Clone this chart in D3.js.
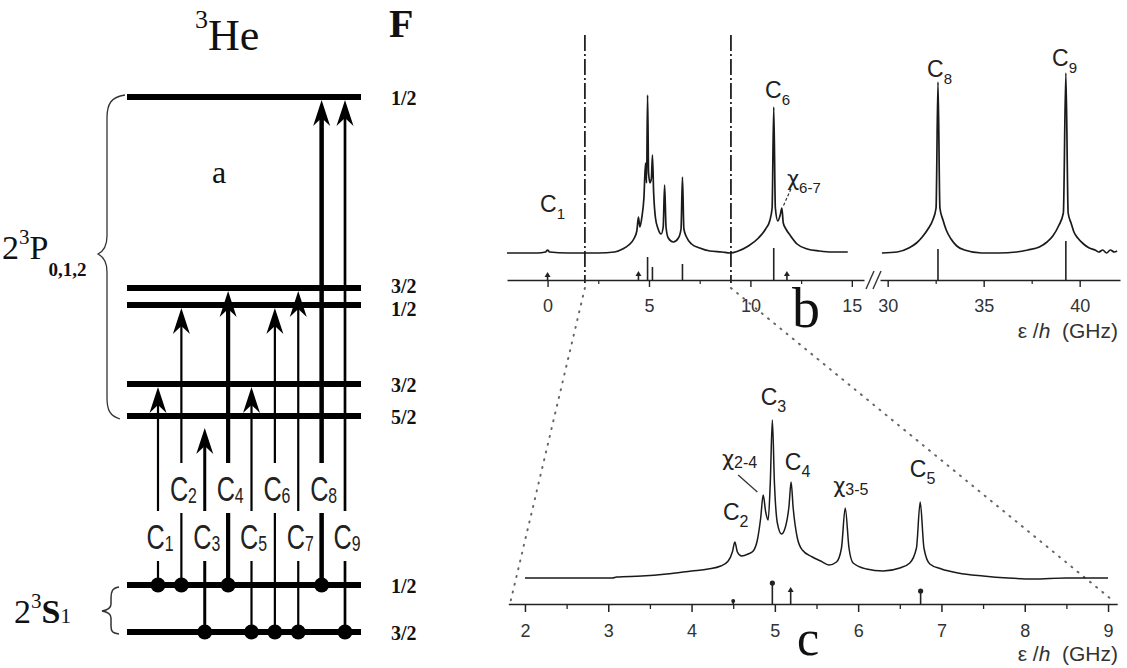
<!DOCTYPE html>
<html>
<head>
<meta charset="utf-8">
<script src="https://cdn.jsdelivr.net/npm/d3@7"></script>
<style>
  body { margin: 0; background: #fff; }
  text { font-family: "Liberation Sans", Arial, sans-serif; }
  .serif { font-family: "Liberation Serif", "Times New Roman", serif; }
</style>
</head>
<body>
<div id="chart"></div>
<script>
// ---- level diagram (a) : hyperfine levels of 3He, energies in arbitrary units
var levelF = ["1/2", "3/2", "1/2", "3/2", "5/2", "1/2", "3/2"];
var levelE = [535, 344, 327, 248, 216, 47, 0];
var transNames = ["C1", "C2", "C3", "C4", "C5", "C6", "C7", "C8", "C9"];
var transFrom = [5, 5, 6, 5, 6, 6, 6, 5, 6];
var transTo   = [3, 2, 4, 1, 3, 2, 1, 0, 0];

// ---- spectrum (b), frequency in GHz, signal in arbitrary units
var bLeftF = [-2.0, -0.5, -0.1, 0, 0.1, 1.0, 2.5, 3.3, 3.7, 4.0, 4.25, 4.4, 4.48, 4.55, 4.65, 4.75, 4.83, 4.88,
  4.93, 4.98, 5.05, 5.12, 5.17, 5.23, 5.32, 5.45, 5.6, 5.7, 5.77, 5.84, 5.95, 6.2, 6.45, 6.58, 6.65, 6.72, 6.85,
  7.1, 7.5, 8.0, 8.6, 9.0, 9.4, 9.9, 10.4, 10.75, 10.95, 11.07, 11.15, 11.23, 11.35, 11.47, 11.55, 11.62, 11.75,
  11.95, 12.3, 12.8, 13.4, 14.0, 14.8];
var bLeftS = [0, 0, 1, 3, 1, 0, 0, 1, 4, 8, 14, 22, 36, 26, 36, 55, 90, 70,
  158, 80, 70, 75, 98, 60, 35, 24, 19, 26, 68, 26, 15, 11, 15, 24, 76, 24, 16,
  9, 5, 2, 1, 0, 2, 7, 15, 24, 32, 45, 146, 45, 32, 38, 45, 30, 24,
  18, 9, 4, 2, 1, 1];
var bRightF = [29.7, 30.5, 31.1, 31.5, 31.8, 32.1, 32.35, 32.52, 32.62, 32.72, 32.88, 33.05, 33.3, 33.6, 34.0,
  34.9, 35.8, 36.7, 37.3, 37.9, 38.3, 38.6, 38.9, 39.15, 39.28, 39.4, 39.55, 39.7, 39.9, 40.2, 40.5, 40.8, 41.0,
  41.2, 41.4, 41.6, 41.8, 41.95];
var bRightS = [0, 1, 5, 10, 16, 24, 33, 45, 171, 45, 33, 23, 14, 7, 3,
  0, 0, 1, 3, 6, 11, 17, 27, 40, 180, 40, 30, 21, 15, 9, 5, 3, 1,
  3, 0, 3, 1, 2];
var bStickF = [0, 4.48, 4.93, 5.17, 6.65, 11.15, 11.8, 32.62, 39.28];
var bStickH = [6, 7, 23, 13, 16, 32, 7, 31, 39];
var bTicksL = [0, 5, 10, 15];
var bTicksR = [30, 35, 40];
var bMinorL = [2.5, 7.5, 12.5];
var bMinorR = [32.5, 37.5];
var zoomWindow = [1.84, 9.04];

// ---- spectrum (c), zoom of 2..9 GHz
var cF = [2.0, 2.5, 3.05, 3.1, 3.4, 3.7, 4.0, 4.2, 4.35, 4.44, 4.49, 4.52, 4.55, 4.6, 4.68, 4.74, 4.79, 4.83,
  4.86, 4.89, 4.92, 4.945, 4.97, 4.995, 5.03, 5.08, 5.13, 5.17, 5.195, 5.22, 5.27, 5.33, 5.45, 5.55, 5.65, 5.74,
  5.8, 5.845, 5.89, 5.94, 6.1, 6.3, 6.5, 6.62, 6.7, 6.745, 6.79, 6.86, 7.0, 7.2, 7.5, 7.8, 8.1, 8.5, 9.0];
var cS = [0, 0, 0, 1, 2, 4, 7, 9, 12, 17, 26, 36, 26, 22, 24, 27, 38, 60,
  83, 66, 58, 95, 158, 95, 55, 44, 52, 72, 96, 70, 40, 28, 21, 17, 13, 16,
  30, 70, 30, 15, 9, 7, 10, 15, 30, 76, 30, 14, 9, 5, 2, 0, -1, 0, 0];
var cStickF = [4.5, 4.97, 5.19, 6.75];
var cStickH = [3, 21, 15, 13];
var cTicks = [2, 3, 4, 5, 6, 7, 8, 9];
var cMinor = [2.5, 3.5, 4.5, 5.5, 6.5, 7.5, 8.5];

// peak labels: [main, subscript, freq of left edge, signal of baseline]
var bLabelsL = [["C", "1", -0.37, 41], ["C", "6", 10.72, 155], ["\u03c7", "6-7", 11.8, 67]];
var bLabelsR = [["C", "8", 32.05, 176], ["C", "9", 38.56, 187]];
var cLabels = [["C", "3", 4.83, 173], ["\u03c7", "2-4", 4.365, 112], ["C", "4", 5.12, 108],
  ["C", "2", 4.377, 58], ["\u03c7", "3-5", 5.7, 85], ["C", "5", 6.62, 101]];

var svg = d3.select("#chart").append("svg")
  .attr("width", 1127).attr("height", 668)
  .style("background", "#fff");

// ================= level diagram =================
var yE = d3.scaleLinear().domain([0, 535]).range([632, 97]);
var xT = d3.scalePoint().domain(transNames).range([158, 345]);

svg.append("text").attr("class", "serif").attr("x", 195).attr("y", 50)
  .style("font-size", "44px").attr("fill", "#111")
  .call(function (t) {
    t.append("tspan").text("3").style("font-size", "26px").attr("dy", -22);
    t.append("tspan").text("He").attr("dy", 22);
  });
svg.append("text").attr("class", "serif").attr("x", 389).attr("y", 37)
  .style("font-size", "40px").style("font-weight", "bold").attr("fill", "#111").text("F");
svg.append("text").attr("class", "serif").attr("x", 212).attr("y", 183)
  .style("font-size", "32px").attr("fill", "#111").text("a");

var levels = levelE.map(function (e, i) { return { E: e, F: levelF[i] }; });
svg.selectAll(".lvl").data(levels).enter().append("line")
  .attr("class", "lvl")
  .attr("x1", 127).attr("x2", 361)
  .attr("y1", function (d) { return yE(d.E); })
  .attr("y2", function (d) { return yE(d.E); })
  .attr("stroke", "#000").attr("stroke-width", 6);

svg.selectAll(".lvlF").data(levels).enter().append("text")
  .attr("class", "serif")
  .attr("x", 391).attr("y", function (d, i) { return yE(d.E) + (i === 1 ? 5 : i === 2 ? 11 : 8); })
  .style("font-size", "20px").style("font-weight", "bold").attr("fill", "#111")
  .text(function (d) { return d.F; });

var trans = transNames.map(function (n, i) {
  return { name: n, from: levelE[transFrom[i]], to: levelE[transTo[i]], idx: i };
});
var thick = { C3: 3, C4: 4.2, C8: 4.5, C9: 2.7 };
trans.forEach(function (d) {
  var x = xT(d.name);
  var y0 = yE(d.from);
  var tip = yE(d.to) + (d.name === "C3" ? 12 : 3);
  var w = thick[d.name] || 2.2;
  svg.append("line").attr("x1", x).attr("x2", x).attr("y1", y0).attr("y2", tip + 16)
    .attr("stroke", "#000").attr("stroke-width", w);
  svg.append("path")
    .attr("d", "M" + x + "," + tip + " L" + (x + 8.5) + "," + (tip + 26) + " L" + x + "," + (tip + 18) +
      " L" + (x - 8.5) + "," + (tip + 26) + " Z")
    .attr("fill", "#000");
  svg.append("circle").attr("cx", x).attr("cy", y0).attr("r", 7.5).attr("fill", "#000");
});

// labels C1..C9 in two rows, on white boxes that cut the lines
trans.forEach(function (d) {
  var x = xT(d.name);
  var row2 = d.idx % 2 === 0;
  var cy = row2 ? 536 : 488;
  svg.append("rect").attr("x", x - 14).attr("y", cy - 25).attr("width", 28).attr("height", 50)
    .attr("fill", "#fff");
  var g = svg.append("g").attr("transform", "translate(" + (x + 2) + "," + (cy + 13) + ") scale(0.72,1)");
  var t = g.append("text").attr("text-anchor", "middle").style("font-size", "35px").attr("fill", "#222");
  t.append("tspan").text("C");
  t.append("tspan").text(d.name.slice(1)).style("font-size", "22px").attr("dy", 2);
});

// braces
svg.append("path")
  .attr("d", "M125,95 C111,97 107,104 107,118 L107,236 C107,246 104,251 98,254 C104,257 107,262 107,272 " +
    "L107,398 C107,410 110,416 120,419")
  .attr("fill", "none").attr("stroke", "#333").attr("stroke-width", 1.3);
svg.append("path")
  .attr("d", "M119,587 C112,588 111,592 111,598 L111,604 C111,608 108,610 102,611 C108,612 111,614 111,618 " +
    "L111,626 C111,631 112,633 119,634")
  .attr("fill", "none").attr("stroke", "#333").attr("stroke-width", 1.5);

svg.append("text").attr("class", "serif").attr("x", 2).attr("y", 259)
  .style("font-size", "34px").attr("fill", "#111")
  .call(function (t) {
    t.append("tspan").text("2");
    t.append("tspan").text("3").style("font-size", "21px").attr("dy", -15);
    t.append("tspan").text("P").attr("dy", 15);
    t.append("tspan").text("0,1,2").style("font-size", "19px").style("font-weight", "bold").attr("dy", 17);
  });
svg.append("text").attr("class", "serif").attr("x", 14).attr("y", 623)
  .style("font-size", "34px").attr("fill", "#111")
  .call(function (t) {
    t.append("tspan").text("2");
    t.append("tspan").text("3").style("font-size", "21px").attr("dy", -15);
    t.append("tspan").text("S").style("font-weight", "bold").attr("dy", 15);
    t.append("tspan").text("1").style("font-size", "21px").attr("dy", 0);
  });

// ================= spectrum b =================
var xBL = d3.scaleLinear().domain([-2, 15.6]).range([507, 864]);
var xBR = d3.scaleLinear().domain([29.6, 42.1]).range([880, 1120]);
var yB = d3.scaleLinear().domain([0, 180]).range([253, 73]);
var axisBY = 280;
var yBStick = d3.scaleLinear().domain([0, 40]).range([axisBY, axisBY - 40]);

// zoom window markers
zoomWindow.forEach(function (f) {
  svg.append("line").attr("x1", xBL(f)).attr("x2", xBL(f)).attr("y1", 35).attr("y2", axisBY + 3)
    .attr("stroke", "#222").attr("stroke-width", 1.8).attr("stroke-dasharray", "16,3,2,3");
});

function drawAxis(scale, ticks, minor, y) {
  var g = svg.append("g").attr("transform", "translate(0," + y + ")")
    .call(d3.axisBottom(scale).tickValues(ticks).tickSize(7).tickSizeOuter(0).tickPadding(12));
  g.select(".domain").attr("stroke", "#222").attr("stroke-width", 1.6);
  g.selectAll(".tick line").attr("stroke", "#222").attr("stroke-width", 1.4);
  g.selectAll(".tick text").style("font-size", "18px").attr("fill", "#333")
    .style("font-family", "'Liberation Sans', Arial, sans-serif");
  var m = svg.append("g").attr("transform", "translate(0," + y + ")")
    .call(d3.axisBottom(scale).tickValues(minor).tickSize(4).tickSizeOuter(0).tickFormat(""));
  m.select(".domain").remove();
  m.selectAll(".tick line").attr("stroke", "#222").attr("stroke-width", 1.2);
}
drawAxis(xBL, bTicksL, bMinorL, axisBY);
drawAxis(xBR, bTicksR, bMinorR, axisBY);

// axis break
[0, 7].forEach(function (dx) {
  svg.append("line").attr("x1", 866 + dx).attr("y1", axisBY + 9).attr("x2", 874 + dx).attr("y2", axisBY - 9)
    .attr("stroke", "#333").attr("stroke-width", 1.4);
});

var lineBL = d3.line().x(function (d) { return xBL(d[0]); }).y(function (d) { return yB(d[1]); })
  .curve(d3.curveMonotoneX);
var lineBR = d3.line().x(function (d) { return xBR(d[0]); }).y(function (d) { return yB(d[1]); })
  .curve(d3.curveMonotoneX);
svg.append("path").datum(d3.zip(bLeftF, bLeftS)).attr("d", lineBL)
  .attr("fill", "none").attr("stroke", "#1a1a1a").attr("stroke-width", 1.7);
svg.append("path").datum(d3.zip(bRightF, bRightS)).attr("d", lineBR)
  .attr("fill", "none").attr("stroke", "#1a1a1a").attr("stroke-width", 1.7);

// stick markers
d3.zip(bStickF, bStickH).forEach(function (d) {
  var x = d[0] > 20 ? xBR(d[0]) : xBL(d[0]);
  svg.append("line").attr("x1", x).attr("x2", x).attr("y1", axisBY).attr("y2", yBStick(d[1]))
    .attr("stroke", "#222").attr("stroke-width", 1.6);
  if (d[1] < 10) {
    svg.append("path").attr("d", "M" + x + "," + (yBStick(d[1]) - 2) + " l3,5 l-6,0 Z").attr("fill", "#222");
  }
});

function peakLabel(x, y, main, sub, size, subSize, drop) {
  var t = svg.append("text").attr("x", x).attr("y", y).style("font-size", size + "px").attr("fill", "#222");
  var m = t.append("tspan").text(main);
  if (main !== "C") m.style("font-family", "'DejaVu Sans', sans-serif").style("font-size", (size - 2) + "px");
  t.append("tspan").text(sub).style("font-size", subSize + "px").attr("dy", drop);
}
bLabelsL.forEach(function (d) { peakLabel(xBL(d[2]), yB(d[3]), d[0], d[1], 23, 15, 7); });
bLabelsR.forEach(function (d) { peakLabel(xBR(d[2]), yB(d[3]), d[0], d[1], 23, 15, 7); });
svg.append("line").attr("x1", xBL(12.0)).attr("y1", yB(64)).attr("x2", xBL(11.62)).attr("y2", yB(47))
  .attr("stroke", "#333").attr("stroke-width", 1.2).attr("stroke-dasharray", "3,2");

svg.append("text").attr("class", "serif").attr("x", 792).attr("y", 327)
  .style("font-size", "56px").attr("fill", "#111").text("b");

function axisTitle(y) {
  var t = svg.append("text").attr("x", 1118).attr("y", y).attr("text-anchor", "end")
    .style("font-size", "21px").attr("fill", "#333").style("white-space", "pre");
  t.append("tspan").text("\u03b5 /");
  t.append("tspan").text("h").style("font-style", "italic");
  t.append("tspan").text("  (GHz)");
}
axisTitle(338);

// ================= spectrum c =================
var xC = d3.scaleLinear().domain([1.8, 9.11]).range([508.3, 1117.2]);
var yC = d3.scaleLinear().domain([0, 160]).range([578, 418]);
var axisCY = 604;
var yCStick = d3.scaleLinear().domain([0, 25]).range([axisCY, axisCY - 25]);

// dotted guides from the zoom window to the lower axis
svg.append("line").attr("x1", xBL(zoomWindow[0])).attr("y1", axisBY + 8).attr("x2", xC(1.82)).attr("y2", axisCY)
  .attr("stroke", "#666").attr("stroke-width", 2).attr("stroke-dasharray", "1,7").attr("stroke-linecap", "round");
svg.append("line").attr("x1", xBL(zoomWindow[1])).attr("y1", axisBY + 8).attr("x2", xC(9.05)).attr("y2", axisCY - 4)
  .attr("stroke", "#666").attr("stroke-width", 2).attr("stroke-dasharray", "1,7").attr("stroke-linecap", "round");

(function () {
  var g = svg.append("g").attr("transform", "translate(0," + axisCY + ")")
    .call(d3.axisBottom(xC).tickValues(cTicks).tickSize(8).tickSizeOuter(0).tickPadding(12));
  g.select(".domain").attr("stroke", "#222").attr("stroke-width", 1.6);
  g.selectAll(".tick line").attr("stroke", "#222").attr("stroke-width", 1.5);
  g.selectAll(".tick text").style("font-size", "18px").attr("fill", "#333")
    .style("font-family", "'Liberation Sans', Arial, sans-serif");
  var m = svg.append("g").attr("transform", "translate(0," + axisCY + ")")
    .call(d3.axisBottom(xC).tickValues(cMinor).tickSize(5).tickSizeOuter(0).tickFormat(""));
  m.select(".domain").remove();
  m.selectAll(".tick line").attr("stroke", "#222").attr("stroke-width", 1.3);
})();

var lineC = d3.line().x(function (d) { return xC(d[0]); }).y(function (d) { return yC(d[1]); })
  .curve(d3.curveMonotoneX);
svg.append("path").datum(d3.zip(cF, cS)).attr("d", lineC)
  .attr("fill", "none").attr("stroke", "#1a1a1a").attr("stroke-width", 1.5);

d3.zip(cStickF, cStickH).forEach(function (d, i) {
  var x = xC(d[0]);
  var top = yCStick(d[1]);
  svg.append("line").attr("x1", x).attr("x2", x).attr("y1", axisCY).attr("y2", top)
    .attr("stroke", "#222").attr("stroke-width", 1.6);
  if (i === 2) {
    svg.append("path").attr("d", "M" + x + "," + (top - 2) + " l3,5 l-6,0 Z").attr("fill", "#222");
  } else {
    svg.append("circle").attr("cx", x).attr("cy", top).attr("r", i === 0 ? 2 : 2.6).attr("fill", "#222");
  }
});

cLabels.forEach(function (d) { peakLabel(xC(d[2]), yC(d[3]), d[0], d[1], 23, 16, d[0] === "C" ? 7 : 2); });
svg.append("line").attr("x1", xC(4.56)).attr("y1", yC(103)).attr("x2", xC(4.79)).attr("y2", yC(86))
  .attr("stroke", "#333").attr("stroke-width", 1.3);

svg.append("text").attr("class", "serif").attr("x", 797).attr("y", 655)
  .style("font-size", "50px").attr("fill", "#111").text("c");

axisTitle(661);
</script>
</body>
</html>
